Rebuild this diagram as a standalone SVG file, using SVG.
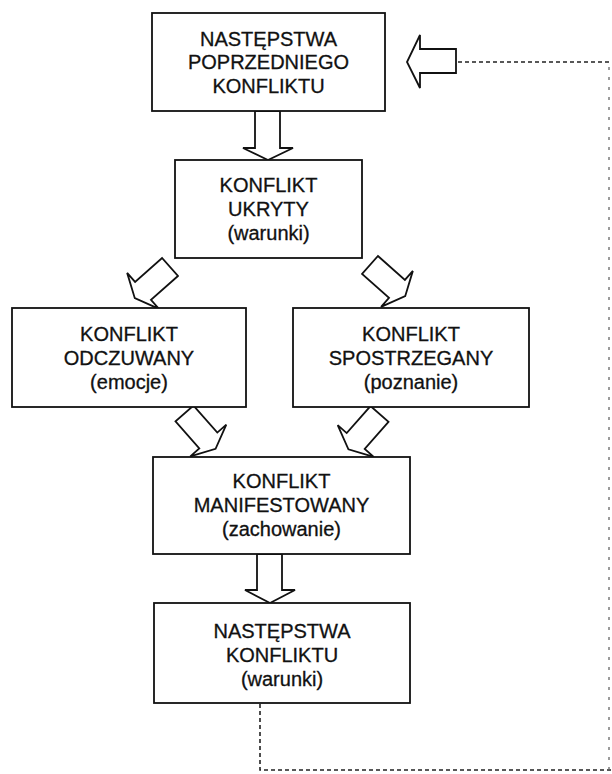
<svg xmlns="http://www.w3.org/2000/svg" width="612" height="774" viewBox="0 0 612 774">
  <defs>
    <style>
      .box { fill: #fff; stroke: #111; stroke-width: 1.8; }
      .lbl { font-family: "Liberation Sans", Arial, sans-serif; font-size: 20px; fill: #111; stroke: #111; stroke-width: 0.3; text-anchor: middle; }
      .arrow { fill: #fff; stroke: #111; stroke-width: 1.8; stroke-linejoin: miter; }
      .feedback { fill: none; stroke: #222; stroke-width: 1.6; stroke-dasharray: 4 3; }
      .feedback-faint { fill: none; stroke: #666; stroke-width: 1.3; stroke-dasharray: 3 7; }
    </style>
    <!-- block arrow pointing along +x, tail at origin, length 47 -->
    <polygon id="blk" points="0,-12 36,-12 36,-24 47,0 36,24 36,12 0,12"/>
  </defs>

  <rect width="612" height="774" fill="#fff"/>

  <g id="connectors">
    <!-- vertical block arrows -->
    <polygon class="arrow" points="255,111 280,111 280,148 293,148 268,160 243,148 255,148"/>
    <polygon class="arrow" points="257,554 282,554 282,590 295,590 270,603 245,590 257,590"/>
    <!-- diagonal block arrows -->
    <use href="#blk" class="arrow" transform="translate(170,267) rotate(138.5)"/>
    <use href="#blk" class="arrow" transform="translate(370,265) rotate(41.5)"/>
    <use href="#blk" class="arrow" transform="translate(184.5,413.5) rotate(48.6)"/>
    <use href="#blk" class="arrow" transform="translate(379.5,414) rotate(131.4)"/>
    <!-- feedback arrow into the first box -->
    <polygon class="arrow" points="456,49 456,73 420,73 420,88 407,62 420,35 420,49"/>
    <!-- feedback loop (dashed) -->
    <polyline class="feedback" points="260,704 260,770 612,770"/>
    <polyline class="feedback-faint" points="609,770 609,64"/>
    <polyline class="feedback" points="458,62 612,62"/>
  </g>

  <g id="n1">
    <rect class="box" x="152" y="13" width="233" height="98"/>
    <text class="lbl" x="268.5" y="46">NASTĘPSTWA</text>
    <text class="lbl" x="268.5" y="69">POPRZEDNIEGO</text>
    <text class="lbl" x="268.5" y="93">KONFLIKTU</text>
  </g>

  <g id="n2">
    <rect class="box" x="175" y="160" width="187" height="98"/>
    <text class="lbl" x="268.5" y="192">KONFLIKT</text>
    <text class="lbl" x="268.5" y="216">UKRYTY</text>
    <text class="lbl" x="268.5" y="240">(warunki)</text>
  </g>

  <g id="n3">
    <rect class="box" x="12" y="308" width="234" height="99"/>
    <text class="lbl" x="129" y="341">KONFLIKT</text>
    <text class="lbl" x="129" y="365">ODCZUWANY</text>
    <text class="lbl" x="129" y="389">(emocje)</text>
  </g>

  <g id="n4">
    <rect class="box" x="293" y="308" width="236" height="99"/>
    <text class="lbl" x="411" y="341">KONFLIKT</text>
    <text class="lbl" x="411" y="365">SPOSTRZEGANY</text>
    <text class="lbl" x="411" y="389">(poznanie)</text>
  </g>

  <g id="n5">
    <rect class="box" x="153" y="457" width="257" height="97"/>
    <text class="lbl" x="281.5" y="488">KONFLIKT</text>
    <text class="lbl" x="281.5" y="512">MANIFESTOWANY</text>
    <text class="lbl" x="281.5" y="536">(zachowanie)</text>
  </g>

  <g id="n6">
    <rect class="box" x="154" y="603" width="256" height="100"/>
    <text class="lbl" x="282" y="638">NASTĘPSTWA</text>
    <text class="lbl" x="282" y="662">KONFLIKTU</text>
    <text class="lbl" x="282" y="686">(warunki)</text>
  </g>
</svg>
